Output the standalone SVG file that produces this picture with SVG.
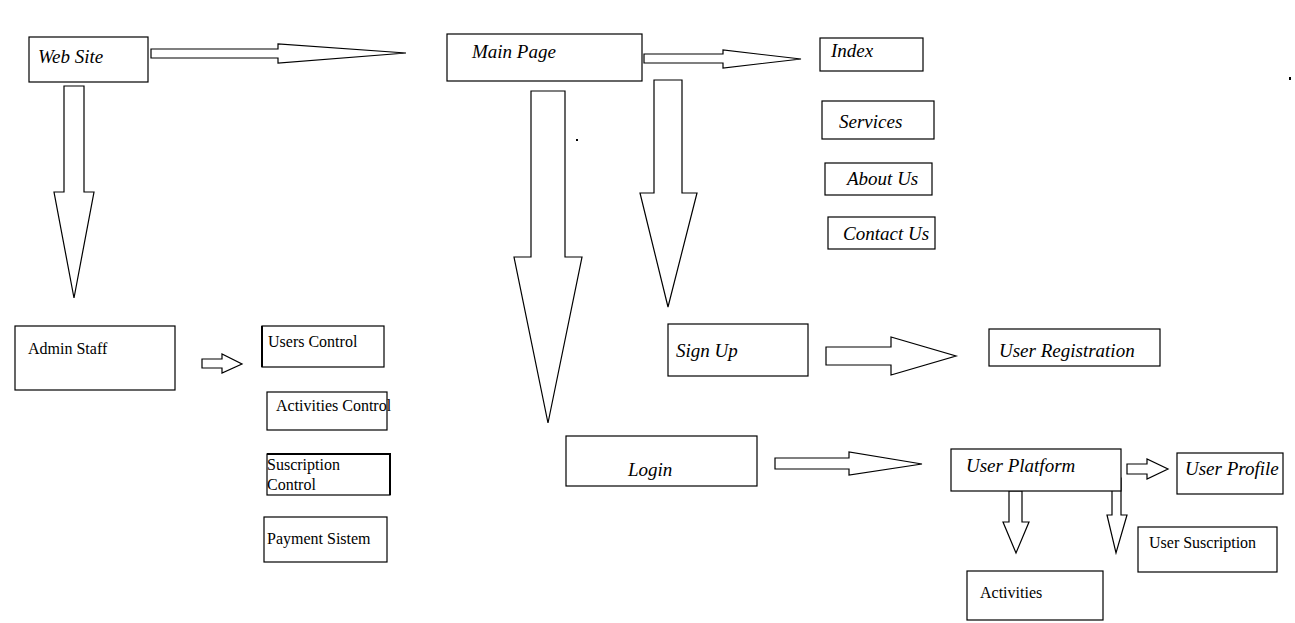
<svg xmlns="http://www.w3.org/2000/svg" width="1295" height="623" viewBox="0 0 1295 623">
<style>
.box{fill:#fff;stroke:#000;stroke-width:1.2}
.arr{fill:#fff;stroke:#000;stroke-width:1.2;stroke-linejoin:miter}
.it{font-family:"Liberation Serif","Times New Roman",serif;font-style:italic;font-size:19px;fill:#000}
.up{font-family:"Liberation Serif","Times New Roman",serif;font-size:16px;fill:#000}
</style>
<rect width="1295" height="623" fill="#fff"/>
<g id="connectors">
<polygon class="arr" points="151,49 278,49 278,44 406,53 278,63 278,58 151,58"/>
<polygon class="arr" points="644,54 723,54 723,50 801,59 723,68 723,63 644,63"/>
<polygon class="arr" points="64,86 84,86 84,192 94,192 74,298 54,192 64,192"/>
<polygon class="arr" points="531,91 565,91 565,257 582,257 548,423 514,257 531,257"/>
<polygon class="arr" points="654,80 682,80 682,193 697,193 668,307 640,193 654,193"/>
<polygon class="arr" points="202,359 222,359 222,354 242,364 222,373 222,368 202,368"/>
<polygon class="arr" points="826,347 891,347 891,337 956,356 891,375 891,365 826,365"/>
<polygon class="arr" points="775,458 849,458 849,452 922,464 849,475 849,469 775,469"/>
<polygon class="arr" points="1127,464 1147,464 1147,459 1168,469 1147,479 1147,474 1127,474"/>
<polygon class="arr" points="1009,491 1022,491 1022,522 1029,522 1016,553 1003,522 1009,522"/>
<polygon class="arr" points="1112,478 1121,478 1121,515 1127,515 1116,553 1107,515 1112,515"/>
</g>
<g id="website"><rect class="box" x="29" y="37" width="119" height="45"/><text class="it" x="38" y="63">Web Site</text></g>
<g id="mainpage"><rect class="box" x="447" y="34" width="195" height="47"/><text class="it" x="472" y="58">Main Page</text></g>
<g id="index"><rect class="box" x="820" y="38" width="103" height="33"/><text class="it" x="831" y="57">Index</text></g>
<g id="services"><rect class="box" x="822" y="101" width="112" height="38"/><text class="it" x="839" y="128">Services</text></g>
<g id="aboutus"><rect class="box" x="825" y="163" width="107" height="32"/><text class="it" x="847" y="185">About Us</text></g>
<g id="contactus"><rect class="box" x="828" y="217" width="107" height="32"/><text class="it" x="843" y="240">Contact Us</text></g>
<g id="adminstaff"><rect class="box" x="15" y="326" width="160" height="64"/><text class="up" x="28" y="354">Admin Staff</text></g>
<g id="userscontrol"><rect class="box" x="262" y="326" width="122" height="41"/><line x1="262" y1="326" x2="262" y2="367" stroke="#000" stroke-width="2"/><text class="up" x="268" y="347">Users Control</text></g>
<g id="activitiescontrol"><rect class="box" x="267" y="392" width="120" height="38"/><text class="up" x="276" y="411">Activities Control</text></g>
<g id="suscriptioncontrol"><rect class="box" x="267" y="454" width="123" height="41"/><polyline points="267,454 390,454 390,495" fill="none" stroke="#000" stroke-width="2"/><text class="up" x="267" y="470">Suscription</text><text class="up" x="267" y="490">Control</text></g>
<g id="paymentsistem"><rect class="box" x="264" y="517" width="123" height="45"/><text class="up" x="267" y="544">Payment Sistem</text></g>
<g id="signup"><rect class="box" x="668" y="324" width="140" height="52"/><text class="it" x="676" y="357">Sign Up</text></g>
<g id="userregistration"><rect class="box" x="989" y="329" width="171" height="37"/><text class="it" x="999" y="357">User Registration</text></g>
<g id="login"><rect class="box" x="566" y="436" width="191" height="50"/><text class="it" x="628" y="476">Login</text></g>
<g id="userplatform"><rect class="box" x="951" y="449" width="170" height="42"/><text class="it" x="966" y="472">User Platform</text></g>
<g id="userprofile"><rect class="box" x="1177" y="453" width="106" height="41"/><text class="it" x="1185" y="475">User Profile</text></g>
<g id="usersuscription"><rect class="box" x="1138" y="527" width="139" height="45"/><text class="up" x="1149" y="548">User Suscription</text></g>
<g id="activities"><rect class="box" x="967" y="571" width="136" height="49"/><text class="up" x="980" y="598">Activities</text></g>
<rect x="576" y="139" width="2" height="2" fill="#000"/>
<rect x="1289" y="77" width="2" height="3" fill="#000"/>
</svg>
